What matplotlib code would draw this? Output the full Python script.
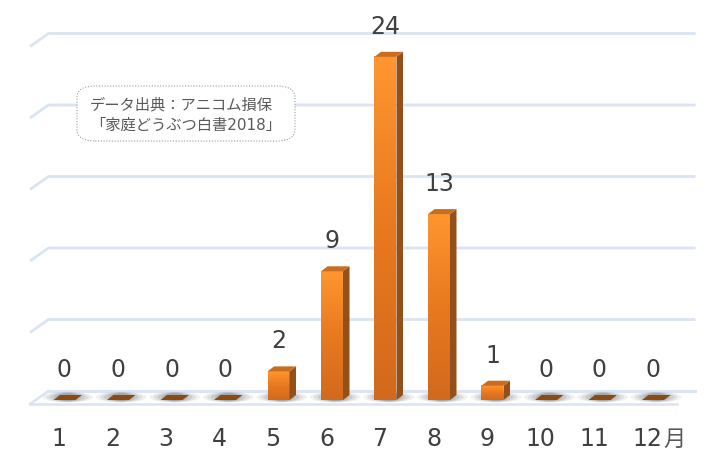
import numpy as np
import matplotlib.pyplot as plt
from matplotlib.patches import Polygon, FancyBboxPatch, Ellipse
from matplotlib.colors import LinearSegmentedColormap

plt.rcParams['font.family'] = ['DejaVu Sans', 'Noto Sans CJK JP']

# data
months = ['1', '2', '3', '4', '5', '6', '7', '8', '9', '10', '11', '12']
counts = [0, 0, 0, 0, 2, 9, 24, 13, 1, 0, 0, 0]
grid_vals = [5, 10, 15, 20, 25]
note = 'データ出典：アニコム損保\n「家庭どうぶつ白書2018」'

W, H = 727, 465
PX_X = 53.5   # pixels per category
PX_Y = 14.3   # pixels per unit

fig = plt.figure(figsize=(W / 100, H / 100), dpi=100)
ax = fig.add_axes([0, 0, 1, 1])
ax.set_xlim(-64.5 / PX_X, (W - 64.5) / PX_X)
ax.set_ylim((400 - H) / PX_Y, 400 / PX_Y)
ax.axis('off')

def px(dx, dy):
    return dx / PX_X, dy / PX_Y

hw = 11 / PX_X            # half bar width
bdx, bdy = px(6.5, 5)     # bar depth
fdx, fdy = px(18.5, 13)   # floor / wall depth
floor_front = -4 / PX_Y
floor_l = -34.5 / PX_X
floor_r = 612.5 / PX_X
grid_col = '#DAE4F3'

# gridlines on back wall with slanted left ends
for v in grid_vals:
    ax.plot([floor_l, floor_l + fdx, floor_r + fdx],
            [v + floor_front, v + floor_front + fdy, v + floor_front + fdy],
            color=grid_col, lw=2.0, solid_capstyle='butt', zorder=1)

# floor
ax.plot([floor_l + fdx, floor_r + fdx], [floor_front + fdy] * 2, color=grid_col, lw=2.2, zorder=1)
ax.plot([floor_l, floor_l + fdx], [floor_front, floor_front + fdy], color=grid_col, lw=1.8, zorder=1)
ax.plot([floor_l, floor_r], [floor_front, floor_front], color=grid_col, lw=1.8, zorder=5)

x = np.arange(len(months))

# shadows on floor
for xi in x:
    for k, a in zip([0.95, 0.8, 0.65, 0.5, 0.38], [0.08, 0.11, 0.13, 0.15, 0.17]):
        e = Ellipse((xi + bdx * 0.5, 0.2), width=k, height=0.75 * (0.6 + 0.4 * k),
                    facecolor='#505050', edgecolor='none', alpha=a, zorder=2)
        ax.add_patch(e)

grad = np.linspace(0, 1, 256).reshape(-1, 1)
front_cmap = LinearSegmentedColormap.from_list('front', ['#D2691C', '#E8791F', '#FF9630'])

for xi, v in zip(x, counts):
    x0, x1 = xi - hw, xi + hw
    if v == 0:
        ax.add_patch(Polygon([[x0, 0], [x1, 0], [x1 + bdx, bdy], [x0 + bdx, bdy]],
                             closed=True, facecolor='#8C4A14', edgecolor='none', zorder=4))
    else:
        ax.imshow(grad, cmap=front_cmap, aspect='auto', origin='lower',
                  extent=[x0, x1, 0, v], zorder=4, interpolation='bilinear')
        ax.add_patch(Polygon([[x1, 0], [x1 + bdx, bdy], [x1 + bdx, v + bdy], [x1, v]],
                             closed=True, facecolor='#94501A', edgecolor='none', zorder=4))
        ax.add_patch(Polygon([[x0, v], [x1, v], [x1 + bdx, v + bdy], [x0 + bdx, v + bdy]],
                             closed=True, facecolor='#C86E20', edgecolor='none', zorder=4))
    ax.text(xi, v + 30 / PX_Y, str(v), ha='center', va='center',
            fontsize=17, color='#404040', zorder=6)

# category labels
lab_y = -39 / PX_Y
for xi, m in zip(x, months):
    ax.text(xi - 5.5 / PX_X, lab_y, m, ha='center', va='center',
            fontsize=17, color='#404040', zorder=6)
ax.annotate('月', xy=(x[-1] - 5.5 / PX_X, lab_y), xytext=(19.5, 0), textcoords='offset points',
            ha='center', va='center', fontsize=16, color='#595959',
            family='Noto Sans CJK JP')

# source note box
box = FancyBboxPatch((77 / W, 1 - 141 / H), 218 / W, 55 / H,
                     boxstyle='round,pad=0,rounding_size=0.025', transform=ax.transAxes,
                     facecolor='white', edgecolor='#9A9A9A', lw=0.8, linestyle=(0, (1, 1.5)),
                     zorder=7)
ax.add_patch(box)
ax.text(90 / W, 1 - 115 / H, note, transform=ax.transAxes, ha='left', va='center',
        fontsize=11, color='#595959', linespacing=1.4, zorder=8,
        family=['DejaVu Sans', 'Noto Sans CJK JP'])

fig.savefig('out.png', dpi=100)
